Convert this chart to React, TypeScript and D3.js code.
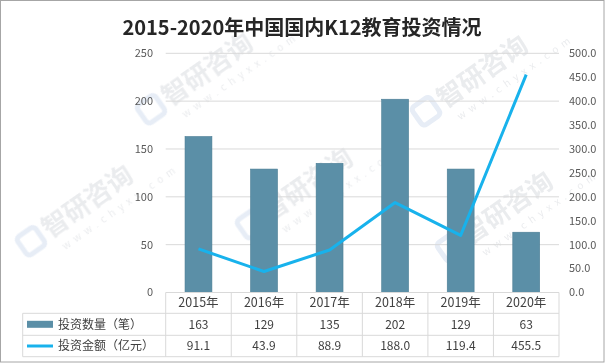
import React, { useEffect, useRef } from 'react';
import * as d3 from 'd3';

const years = ['2015年', '2016年', '2017年', '2018年', '2019年', '2020年'];
const dealCount = [163, 129, 135, 202, 129, 63];
const dealAmount = [91.1, 43.9, 88.9, 188.0, 119.4, 455.5];
const leftTicks = [0, 50, 100, 150, 200, 250];
const rightTicks = [0, 50, 100, 150, 200, 250, 300, 350, 400, 450, 500];
const seriesNames = ['投资数量（笔）', '投资金额（亿元）'];

const FONT = '"Noto Sans CJK SC", "Noto Sans", sans-serif';

function App() {
  const svgRef = useRef<SVGSVGElement>(null);

  useEffect(() => {
    document.body.style.margin = '0';
    const svg = d3.select(svgRef.current);
    svg.selectAll('*').remove();

    const W = 606, H = 364;
    const left = 165.7, right = 559, top = 53.3, bottom = 292.5;
    const rowTop = 313.3, rowMid = 335.3, rowBottom = 356.7, legendLeft = 22.7;

    svg.append('rect').attr('x', 0).attr('y', 0).attr('width', W).attr('height', H).attr('fill', '#fff');

    // faint watermarks behind everything
    const wm = svg.append('g').attr('opacity', 0.35);
    const spots = [[205, 80], [480, 82], [305, 195], [85, 212], [505, 218]];
    spots.forEach(([cx, cy]) => {
      const g = wm.append('g').attr('transform', `translate(${cx},${cy}) rotate(-35)`);
      g.append('rect').attr('x', -72).attr('y', -18).attr('width', 22).attr('height', 22).attr('rx', 4)
        .attr('fill', 'none').attr('stroke', '#b9cbe6').attr('stroke-width', 5);
      g.append('text').attr('x', -44).attr('y', 2).attr('font-family', FONT).attr('font-weight', 'bold')
        .attr('font-size', 26).attr('fill', '#c4c8cf').text('智研咨询');
      g.append('text').attr('x', -38).attr('y', 20).attr('font-family', FONT).attr('font-size', 10)
        .attr('letter-spacing', 5).attr('fill', '#c4c8cf').text('www.chyxx.com');
    });

    const x = d3.scaleBand<string>().domain(years).range([left, right]).paddingInner(0).paddingOuter(0);
    const yL = d3.scaleLinear().domain([0, 250]).range([bottom, top]);
    const yR = d3.scaleLinear().domain([0, 500]).range([bottom, top]);

    // title
    svg.append('text').attr('x', 302).attr('y', 35).attr('text-anchor', 'middle')
      .attr('font-family', FONT).attr('font-weight', 'bold').attr('font-size', 20).attr('fill', '#262626')
      .text('2015-2020年中国国内K12教育投资情况');

    // gridlines
    svg.append('g').selectAll('line').data(leftTicks.filter(t => t > 0)).enter().append('line')
      .attr('x1', left).attr('x2', right).attr('y1', d => yL(d)).attr('y2', d => yL(d))
      .attr('stroke', '#d9d9d9').attr('stroke-width', 1);

    // left axis labels
    svg.append('g').selectAll('text').data(leftTicks).enter().append('text')
      .attr('x', 153).attr('y', d => yL(d)).attr('dy', '0.35em').attr('text-anchor', 'end')
      .attr('font-family', FONT).attr('font-size', 11).attr('fill', '#595959').text(d => d);

    // right axis labels
    svg.append('g').selectAll('text').data(rightTicks).enter().append('text')
      .attr('x', 569).attr('y', d => yR(d)).attr('dy', '0.35em').attr('text-anchor', 'start')
      .attr('font-family', FONT).attr('font-size', 11).attr('fill', '#595959').text(d => d.toFixed(1));

    // bars
    const bw = x.bandwidth() * 0.41;
    svg.append('g').selectAll('rect').data(dealCount).enter().append('rect')
      .attr('x', (d, i) => x(years[i])! + (x.bandwidth() - bw) / 2)
      .attr('width', bw)
      .attr('y', d => yL(d))
      .attr('height', d => bottom - yL(d))
      .attr('fill', '#5b8fa7')
      .attr('stroke', '#4a7d94').attr('stroke-width', 0.6);

    // line
    const line = d3.line<number>()
      .x((d, i) => x(years[i])! + x.bandwidth() / 2)
      .y(d => yR(d));
    svg.append('path').datum(dealAmount).attr('d', line).attr('fill', 'none')
      .attr('stroke', '#18b2ec').attr('stroke-width', 3).attr('stroke-linejoin', 'round');

    // data table
    const tbl = svg.append('g').attr('stroke', '#d9d9d9').attr('stroke-width', 1);
    tbl.append('line').attr('x1', left).attr('x2', right).attr('y1', bottom).attr('y2', bottom);
    [rowTop, rowMid, rowBottom].forEach(yy => {
      tbl.append('line').attr('x1', legendLeft).attr('x2', right).attr('y1', yy).attr('y2', yy);
    });
    tbl.append('line').attr('x1', legendLeft).attr('x2', legendLeft).attr('y1', rowTop).attr('y2', rowBottom);
    years.concat(['end']).forEach((yr, i) => {
      const xx = i < years.length ? x(yr)! : right;
      tbl.append('line').attr('x1', xx).attr('x2', xx).attr('y1', bottom).attr('y2', rowBottom);
    });

    const cell = (txt: string, cx: number, cy: number, size = 12) =>
      svg.append('text').attr('x', cx).attr('y', cy).attr('dy', '0.35em').attr('text-anchor', 'middle')
        .attr('font-family', FONT).attr('font-size', size).attr('fill', '#404040').text(txt);

    years.forEach((yr, i) => {
      const cx = x(yr)! + x.bandwidth() / 2;
      cell(yr, cx, (bottom + rowTop) / 2, 12.5);
      cell(String(dealCount[i]), cx, (rowTop + rowMid) / 2);
      cell(dealAmount[i].toFixed(1), cx, (rowMid + rowBottom) / 2);
    });

    // legend keys
    svg.append('rect').attr('x', 27).attr('y', (rowTop + rowMid) / 2 - 3.5).attr('width', 26).attr('height', 7)
      .attr('fill', '#5b8fa7');
    svg.append('line').attr('x1', 27).attr('x2', 53)
      .attr('y1', (rowMid + rowBottom) / 2).attr('y2', (rowMid + rowBottom) / 2)
      .attr('stroke', '#18b2ec').attr('stroke-width', 3);
    [(rowTop + rowMid) / 2, (rowMid + rowBottom) / 2].forEach((cy, i) => {
      svg.append('text').attr('x', 58).attr('y', cy).attr('dy', '0.35em')
        .attr('font-family', FONT).attr('font-size', 12).attr('fill', '#404040').text(seriesNames[i]);
    });

    // outer frame
    svg.append('rect').attr('x', 0.5).attr('y', 0.5).attr('width', 603.5).attr('height', 361.5)
      .attr('fill', 'none').attr('stroke', '#a6a6a6').attr('stroke-width', 1);
  }, []);

  return <svg ref={svgRef} width={606} height={364} style={{ display: 'block' }} />;
}

export default App;
